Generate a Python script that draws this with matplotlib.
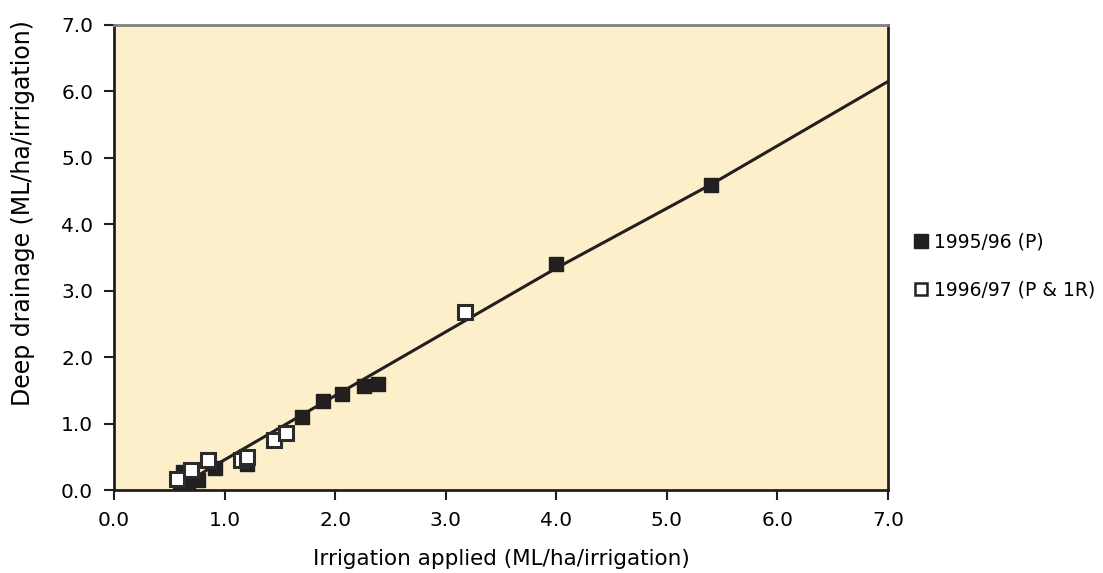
import matplotlib
matplotlib.use("Agg")
import matplotlib.pyplot as plt
from matplotlib.lines import Line2D

# 1995/96 (P) - filled squares
p9596_x = [0.60, 0.62, 0.67, 0.76, 0.91, 1.20, 1.70, 1.89, 2.06, 2.26, 2.39, 4.00, 5.40]
p9596_y = [0.05, 0.27, 0.10, 0.15, 0.33, 0.39, 1.10, 1.34, 1.45, 1.57, 1.60, 3.40, 4.59]

# 1996/97 (P & 1R) - open squares
p9697_x = [0.57, 0.70, 0.85, 1.15, 1.20, 1.45, 1.56, 3.17]
p9697_y = [0.17, 0.30, 0.45, 0.45, 0.50, 0.75, 0.86, 2.68]

# fitted line
fit_x = [0.60, 0.84, 2.00, 4.00, 5.40, 7.00]
fit_y = [0.05, 0.30, 1.42, 3.34, 4.60, 6.15]

ticks = [0, 1, 2, 3, 4, 5, 6, 7]
tick_labels = ["0.0", "1.0", "2.0", "3.0", "4.0", "5.0", "6.0", "7.0"]

plt.rcParams["font.family"] = ["DejaVu Sans"]

fig = plt.figure(figsize=(11.03, 5.73), dpi=100)
ax = fig.add_axes([114 / 1103, 83 / 573, 774 / 1103, 465 / 573])
ax.set_facecolor("#FCEFCA")

ax.plot(fit_x, fit_y, color="#231f20", lw=2.2, zorder=2)
ax.plot(p9596_x, p9596_y, "s", ms=10, color="#231f20", mec="#231f20", zorder=3)
ax.plot(p9697_x, p9697_y, "s", ms=10, mfc="white", mec="#2b2b2b", mew=2.2, zorder=4)

ax.set_xlim(0, 7)
ax.set_ylim(0, 7)
ax.set_xticks(ticks)
ax.set_xticklabels(tick_labels)
ax.set_yticks(ticks)
ax.set_yticklabels(tick_labels)
ax.tick_params(direction="out", length=7, width=1.5, labelsize=14.5, color="#231f20", pad=8)

for side in ["left", "bottom", "right"]:
    ax.spines[side].set_linewidth(2)
    ax.spines[side].set_color("#231f20")
ax.spines["top"].set_linewidth(2)
ax.spines["top"].set_color("#808080")

ax.set_xlabel("Irrigation applied (ML/ha/irrigation)", fontsize=15.5, labelpad=14)
ax.set_ylabel("Deep drainage (ML/ha/irrigation)", fontsize=17)
ax.yaxis.set_label_coords(-0.102, 0.596)

handles = [
    Line2D([], [], ls="none", marker="s", ms=10, color="#231f20"),
    Line2D([], [], ls="none", marker="s", ms=9, mfc="white", mec="#231f20", mew=1.8),
]
fig.legend(handles, ["1995/96 (P)", "1996/97 (P & 1R)"], loc="center left",
           bbox_to_anchor=(897 / 1103, 1 - 266 / 573), frameon=False, fontsize=13.5,
           handlelength=0.8, handletextpad=0.3, labelspacing=1.5)

fig.savefig("out.png", dpi=100)
